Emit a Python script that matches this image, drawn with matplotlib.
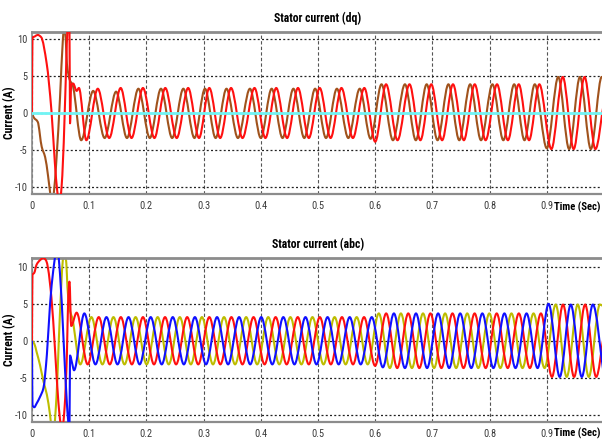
import numpy as np
import matplotlib
matplotlib.use("Agg")
import matplotlib.pyplot as plt
from matplotlib import font_manager
from matplotlib.path import Path
from matplotlib.patches import PathPatch

# ---- data (extrema + transient knots) ----
x_ticks = [0, 0.1, 0.2, 0.3, 0.4, 0.5, 0.6, 0.7, 0.8, 0.9]
x_labels = ["0", "0.1", "0.2", "0.3", "0.4", "0.5", "0.6", "0.7", "0.8", "0.9"]
y_ticks = [-10, -5, 0, 5, 10]
y_labels = ["-10", "-5", "0", "5", "10"]

# top: stator current (dq)
dq_brown_t = [
    0, 0.003, 0.010, 0.017, 0.023, 0.028, 0.032, 0.035, 0.038, 0.043, 0.049, 0.054, 0.0565, 0.059, 0.061, 0.066, 0.071,
    0.086, 0.107, 0.127, 0.147, 0.166, 0.186, 0.206, 0.2255, 0.245, 0.2646,
    0.284, 0.3024, 0.321, 0.340, 0.360, 0.381, 0.400, 0.419, 0.438, 0.457,
    0.476, 0.495, 0.514, 0.533, 0.553, 0.573, 0.592, 0.611, 0.631, 0.652,
    0.671, 0.690, 0.709, 0.728, 0.747, 0.766, 0.785, 0.805, 0.824, 0.843,
    0.861, 0.879, 0.900, 0.920, 0.939, 0.958, 0.977, 0.996, 1.0]
dq_brown_v = [
    0, -0.6, -1.2, -4.6, -6.0, -8.5, -11.0, -12.5, -11.0, -6.0, 2.1, 10.0, 12.0, 10.0, 6.7, 4.5, 3.8,
    -3.7, 3.0, -3.4, 2.9, -3.4, 3.3, -3.4, 3.3, -3.4, 3.3,
    -3.4, 3.3, -3.4, 3.3, -3.4, 3.3, -3.4, 3.3, -3.4, 3.3,
    -3.4, 3.3, -3.4, 3.3, -3.4, 3.3, -3.5, 3.9, -3.7, 3.9,
    -3.7, 3.9, -3.7, 3.9, -3.7, 3.9, -3.7, 3.9, -3.7, 3.9,
    -3.7, 3.9, -4.8, 4.9, -4.9, 4.9, -4.9, 4.9, 4.8]

dq_red_t = [
    0, 0.0008, 0.005, 0.010, 0.016, 0.0257, 0.034, 0.040, 0.044, 0.048, 0.053, 0.058, 0.0625, 0.0655, 0.0665,
    0.0685, 0.072, 0.078, 0.082,
    0.095, 0.115, 0.135, 0.155, 0.174, 0.194, 0.214, 0.233, 0.253, 0.273,
    0.292, 0.310, 0.329, 0.348, 0.368, 0.389, 0.408, 0.427, 0.446, 0.465,
    0.484, 0.503, 0.522, 0.541, 0.561, 0.581, 0.600, 0.619, 0.639, 0.660,
    0.679, 0.698, 0.717, 0.736, 0.755, 0.774, 0.793, 0.813, 0.832, 0.851,
    0.869, 0.887, 0.908, 0.928, 0.947, 0.966, 0.985, 1.0]
dq_red_v = [
    0, 10.2, 10.4, 10.6, 10.3, 6.7, 0.3, -6.8, -10.5, -12.5, -8.5, 2.0, 11.5, 11.5, -1.4,
    3.8, 4.0, 3.0, 3.4,
    -3.7, 3.3, -3.4, 3.4, -3.4, 3.4, -3.4, 3.4, -3.4, 3.4,
    -3.4, 3.4, -3.4, 3.4, -3.4, 3.4, -3.4, 3.4, -3.4, 3.4,
    -3.4, 3.4, -3.4, 3.4, -3.4, 3.4, -3.9, 3.9, -3.7, 3.9,
    -3.7, 3.9, -3.7, 3.9, -3.7, 3.9, -3.7, 3.9, -3.7, 3.9,
    -3.7, 3.9, -4.9, 4.9, -4.9, 4.9, -4.9, 1.5]

dq_zero_t = [0, 1.0]
dq_zero_v = [0, 0]

# bottom: stator current (abc)
a_t = [
    0, 0.0008, 0.004, 0.008, 0.014, 0.020, 0.025, 0.028, 0.034, 0.040, 0.046, 0.050, 0.053, 0.057, 0.061, 0.0635,
    0.0655, 0.0685,
    0.078, 0.0973, 0.1167, 0.136, 0.1553, 0.1746, 0.194, 0.2133, 0.2326, 0.2519,
    0.2713, 0.2906, 0.310, 0.3293, 0.3486, 0.3679, 0.3873, 0.4066, 0.4259, 0.4452,
    0.4646, 0.4839, 0.5032, 0.5225, 0.5419, 0.5612, 0.5805, 0.5998, 0.6192, 0.6385,
    0.6578, 0.6771, 0.6965, 0.7158, 0.7351, 0.7544, 0.7738, 0.7931, 0.8124, 0.8317,
    0.8511, 0.8704, 0.8897, 0.909, 0.9284, 0.9477, 0.967, 0.9863, 1.0]
a_v = [
    0, 8.9, 9.2, 10.3, 10.9, 11.2, 10.8, 9.8, 5.8, -0.9, -8.2, -11.2, -12.0, -9.0, -1.9, 6.2,
    8.0, 2.0,
    3.8, -3.2, 3.2, -3.2, 3.2, -3.2, 3.2, -3.2, 3.2, -3.2,
    3.2, -3.2, 3.2, -3.2, 3.2, -3.2, 3.2, -3.2, 3.2, -3.2,
    3.2, -3.2, 3.2, -3.2, 3.2, -3.2, 3.2, -3.4, 3.7, -3.7,
    3.7, -3.7, 3.7, -3.7, 3.7, -3.7, 3.7, -3.7, 3.7, -3.7,
    3.7, -3.7, 3.7, -4.9, 4.9, -4.9, 4.9, -4.9, 0.9]

b_t = [
    0, 0.0008, 0.004, 0.008, 0.014, 0.020, 0.026, 0.0315, 0.037, 0.041, 0.045, 0.049, 0.055, 0.061, 0.0635, 0.0655,
    0.0665, 0.070,
    0.0735, 0.0915, 0.1109, 0.1302, 0.1495, 0.1688, 0.1882, 0.2075, 0.2268, 0.2461,
    0.2655, 0.2848, 0.3042, 0.3235, 0.3428, 0.3621, 0.3815, 0.4008, 0.4201, 0.4394,
    0.4588, 0.4781, 0.4974, 0.5167, 0.5361, 0.5554, 0.5747, 0.594, 0.6134, 0.6327,
    0.652, 0.6713, 0.6907, 0.710, 0.7293, 0.7486, 0.768, 0.7873, 0.8066, 0.8259,
    0.8453, 0.8646, 0.8839, 0.9032, 0.9226, 0.9419, 0.9612, 0.9805, 1.0]
b_v = [
    0, -8.7, -9.0, -8.5, -7.6, -6.4, -1.9, 4.9, 9.4, 11.5, 12.0, 9.0, 0.4, -8.5, -11.0, -12.0,
    -2.0, -3.0,
    -4.0, 3.7, -3.2, 3.2, -3.2, 3.2, -3.2, 3.2, -3.2, 3.2,
    -3.2, 3.2, -3.2, 3.2, -3.2, 3.2, -3.2, 3.2, -3.2, 3.2,
    -3.2, 3.2, -3.2, 3.2, -3.2, 3.2, -3.2, 3.2, -3.6, 3.7,
    -3.7, 3.7, -3.7, 3.7, -3.7, 3.7, -3.7, 3.7, -3.7, 3.7,
    -3.7, 3.7, -3.7, 5.0, -4.9, 4.9, -4.9, 4.9, -4.8]

c_t = [
    0, 0.004, 0.008, 0.014, 0.020, 0.026, 0.0315, 0.034, 0.038, 0.043, 0.047, 0.051, 0.054, 0.057, 0.060, 0.062,
    0.0665, 0.070,
    0.0844, 0.1038, 0.1231, 0.1424, 0.1617, 0.1811, 0.2004, 0.2197, 0.239, 0.2584,
    0.2777, 0.2971, 0.3164, 0.3357, 0.355, 0.3744, 0.3937, 0.413, 0.4323, 0.4517,
    0.471, 0.4903, 0.5096, 0.529, 0.5483, 0.5676, 0.5869, 0.6063, 0.6256, 0.6449,
    0.6642, 0.6836, 0.7029, 0.7222, 0.7415, 0.7609, 0.7802, 0.7995, 0.8188, 0.8382,
    0.8575, 0.8768, 0.8961, 0.9155, 0.9348, 0.9541, 0.9734, 0.9928, 1.0]
c_v = [
    0, -0.4, -1.5, -3.3, -5.5, -7.3, -10.0, -11.5, -12.0, -7.3, 0.3, 7.2, 11.0, 12.0, 10.5, 7.2,
    4.0, 3.2,
    -3.2, 3.2, -3.2, 3.2, -3.2, 3.2, -3.2, 3.2, -3.2, 3.2,
    -3.2, 3.2, -3.2, 3.2, -3.2, 3.2, -3.2, 3.2, -3.2, 3.2,
    -3.2, 3.2, -3.2, 3.2, -3.2, 3.2, -3.2, 3.7, -3.7, 3.7,
    -3.7, 3.7, -3.7, 3.7, -3.7, 3.7, -3.7, 3.7, -3.7, 3.7,
    -3.7, 3.7, -3.7, 4.9, -4.9, 4.9, -4.9, 4.9, 4.6]


def trace(ax, t, v, color, lw=1.5, z=2):
    # smooth monotone (pchip-style) bezier through the read-off knots
    t = np.asarray(t, float)
    v = np.asarray(v, float)
    h = np.diff(t)
    d = np.diff(v) / h
    m = np.zeros_like(v)
    m[0], m[-1] = d[0], d[-1]
    for i in range(1, len(v) - 1):
        if d[i - 1] * d[i] > 0:
            w1, w2 = 2 * h[i] + h[i - 1], h[i] + 2 * h[i - 1]
            m[i] = (w1 + w2) / (w1 / d[i - 1] + w2 / d[i])
    verts = [(t[0], v[0])]
    for i in range(len(h)):
        verts += [(t[i] + h[i] / 3, v[i] + m[i] * h[i] / 3),
                  (t[i + 1] - h[i] / 3, v[i + 1] - m[i + 1] * h[i] / 3),
                  (t[i + 1], v[i + 1])]
    codes = [Path.MOVETO] + [Path.CURVE4] * (len(verts) - 1)
    ax.add_patch(PathPatch(Path(verts, codes), fill=False, edgecolor=color,
                           lw=lw, zorder=z, joinstyle="round"))


# narrow face like the scope's Arial Narrow, if one is around
names = {f.name for f in font_manager.fontManager.ttflist}
narrow = [n for n in ["Liberation Sans Narrow", "Arial Narrow", "Roboto Condensed",
                      "Open Sans Condensed", "DejaVu Sans Condensed"] if n in names]
if narrow:
    plt.rcParams["font.family"] = [narrow[0], "DejaVu Sans"]
    fs_lab, fs_tick = 8.5, 7.5
else:
    plt.rcParams["font.family"] = ["DejaVu Sans"]
    fs_lab, fs_tick = 7, 6

fig = plt.figure(figsize=(6.02, 4.41), dpi=100)
ax1 = fig.add_axes([32 / 602, 1 - 194 / 441, 572 / 602, 162 / 441])
ax2 = fig.add_axes([32 / 602, 1 - 422 / 441, 572 / 602, 164 / 441])

for ax, title, ylim, ty in [(ax1, "Stator current (dq)", (-11, 11), -0.08),
                            (ax2, "Stator current (abc)", (-11, 11.2), -0.067)]:
    ax.set_xlim(0, 1)
    ax.set_ylim(*ylim)
    ax.set_xticks(x_ticks)
    ax.set_xticklabels(x_labels)
    ax.set_yticks(y_ticks)
    ax.set_yticklabels(y_labels)
    ax.tick_params(length=0, labelsize=fs_tick, labelcolor="#3a3a3a", pad=5)
    ax.tick_params(axis="y", pad=3)
    ax.xaxis.grid(True, ls=(0, (3, 2)), color="#555555", lw=0.8)
    ax.yaxis.grid(True, ls=(0, (1.6, 1.8)), color="#222222", lw=0.9)
    ax.set_axisbelow(True)
    for s in ["left", "bottom", "top"]:
        ax.spines[s].set_color("#8c8c8c")
    ax.spines["left"].set_linewidth(1.2)
    ax.spines["bottom"].set_linewidth(1.6)
    ax.spines["top"].set_linewidth(2.0)
    ax.spines["right"].set_visible(False)
    ax.set_title(title, fontsize=fs_lab, fontweight="bold", pad=7)
    ax.set_ylabel("Current (A)", fontsize=fs_lab, fontweight="bold")
    ax.yaxis.set_label_coords(-0.028, 0.5)
    ax.text(0.993, ty, "Time (Sec)", transform=ax.transAxes, ha="right", va="center",
            fontsize=fs_lab - 0.8, fontweight="bold")

trace(ax1, dq_brown_t, dq_brown_v, "#a0521c")
trace(ax1, dq_red_t, dq_red_v, "#ff1010", z=3)
ax1.plot(dq_zero_t, dq_zero_v, color="#70f4f4", lw=2, zorder=4)

trace(ax2, c_t, c_v, "#bdbd00")
trace(ax2, a_t, a_v, "#ff1010", z=3)
trace(ax2, b_t, b_v, "#1010ff", z=4)

fig.savefig("out.png", dpi=100)
